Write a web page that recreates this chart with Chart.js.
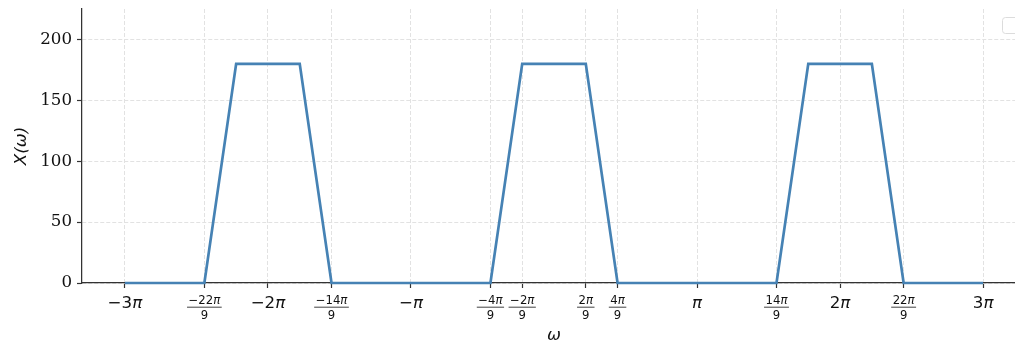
<!DOCTYPE html>
<html>
<head>
<meta charset="utf-8">
<script src="https://cdn.jsdelivr.net/npm/chart.js@4"></script>
<style>
  html, body { margin: 0; padding: 0; background: #fff; overflow: hidden; }
  #wrap { width: 1030px; height: 346px; }
</style>
</head>
<body>
<div id="wrap"><canvas id="spectrum" width="1030" height="346"></canvas></div>
<script>
// Spectrum data (omega in multiples of pi)
const omega = [-3, -22/9, -20/9, -16/9, -14/9, -4/9, -2/9, 2/9, 4/9, 14/9, 16/9, 20/9, 22/9, 3];
const magnitude = [0, 0, 180, 180, 0, 0, 180, 180, 0, 0, 180, 180, 0, 0];

// x tick positions (multiples of pi) and their labels
const xTickValues = [-3, -22/9, -2, -14/9, -1, -4/9, -2/9, 2/9, 4/9, 1, 14/9, 2, 22/9, 3];
const xTickLabels = ['−3π', '−22π/9', '−2π', '−14π/9', '−π', '−4π/9', '−2π/9', '2π/9', '4π/9', 'π', '14π/9', '2π', '22π/9', '3π'];
const yTickValues = [0, 50, 100, 150, 200];

const SANS = '"DejaVu Sans"';

// draw text with the pi sign in oblique, like matplotlib mathtext
function drawMath(ctx, text, cx, baseline, size) {
  const parts = text.split(/(π)/).filter(s => s.length);
  const fontFor = s => (s === 'π' ? 'italic ' : '') + size + 'px ' + SANS;
  let total = 0;
  parts.forEach(p => { ctx.font = fontFor(p); total += ctx.measureText(p).width; });
  let x = cx - total / 2;
  ctx.textAlign = 'left';
  ctx.textBaseline = 'alphabetic';
  parts.forEach(p => {
    ctx.font = fontFor(p);
    ctx.fillText(p, x, baseline);
    x += ctx.measureText(p).width;
  });
  return total;
}

const labelPlugin = {
  id: 'mathLabels',
  afterDraw(chart) {
    const ctx = chart.ctx;
    const xs = chart.scales.x;
    const area = chart.chartArea;
    ctx.save();
    ctx.fillStyle = '#111';
    xTickValues.forEach((v, i) => {
      const px = xs.getPixelForValue(v);
      const lab = xTickLabels[i];
      if (lab.includes('/')) {
        const [num, den] = lab.split('/');
        const w = drawMath(ctx, num, px, 304, 11.7);
        ctx.font = '11.7px ' + SANS;
        ctx.textAlign = 'center';
        ctx.fillText(den, px, 318.5);
        ctx.strokeStyle = '#111';
        ctx.lineWidth = 0.8;
        ctx.beginPath();
        ctx.moveTo(px - w / 2 - 1.5, 307.2);
        ctx.lineTo(px + w / 2 + 1.5, 307.2);
        ctx.stroke();
      } else {
        drawMath(ctx, lab, px, 307.5, 16.67);
      }
    });
    // axis labels
    ctx.font = 'italic 16.67px ' + SANS;
    ctx.textAlign = 'center';
    ctx.textBaseline = 'alphabetic';
    ctx.fillText('ω', (area.left + area.right) / 2, 340);
    ctx.save();
    ctx.translate(26, (area.top + area.bottom) / 2);
    ctx.rotate(-Math.PI / 2);
    ctx.fillText('X(ω)', 0, 0);
    ctx.restore();
    // empty legend box in upper right
    ctx.fillStyle = 'rgba(255,255,255,0.8)';
    ctx.strokeStyle = '#dcdcdc';
    ctx.lineWidth = 1;
    ctx.beginPath();
    ctx.roundRect(1002.5, 17.5, 17, 16, 3);
    ctx.fill();
    ctx.stroke();
    ctx.restore();
  }
};

const gridOpts = {
  color: '#e2e2e2',
  lineWidth: 1,
  tickLength: 5,
  tickColor: '#333',
  tickBorderDash: [],
  tickWidth: 1.2,
};

new Chart(document.getElementById('spectrum').getContext('2d'), {
  type: 'line',
  data: {
    datasets: [{
      data: omega.map((w, i) => ({ x: w, y: magnitude[i] })),
      borderColor: '#4682b4',
      borderWidth: 2.7,
      pointRadius: 0,
      tension: 0,
      fill: false,
      clip: false,
    }]
  },
  options: {
    responsive: false,
    animation: false,
    layout: { padding: { left: 0, right: 4, top: 9, bottom: 0 } },
    plugins: { legend: { display: false }, tooltip: { enabled: false } },
    scales: {
      x: {
        type: 'linear',
        min: -3.3,
        max: 3.3,
        afterBuildTicks: s => { s.ticks = xTickValues.map(v => ({ value: v })); },
        afterFit: s => { s.height = 63; s.paddingLeft = 0; s.paddingRight = 0; },
        ticks: { display: false },
        grid: gridOpts,
        border: { display: true, color: '#333', width: 1.25, dash: [4, 2] },
      },
      y: {
        min: 0,
        max: 225,
        afterBuildTicks: s => { s.ticks = yTickValues.map(v => ({ value: v })); },
        afterFit: s => { s.width = 82; s.paddingTop = 0; s.paddingBottom = 0; },
        ticks: {
          color: '#111',
          padding: 5,
          font: { family: '"DejaVu Serif"', size: 16.67 },
        },
        grid: gridOpts,
        border: { display: true, color: '#333', width: 1.25, dash: [4, 2] },
      }
    }
  },
  plugins: [labelPlugin]
});
</script>
</body>
</html>
